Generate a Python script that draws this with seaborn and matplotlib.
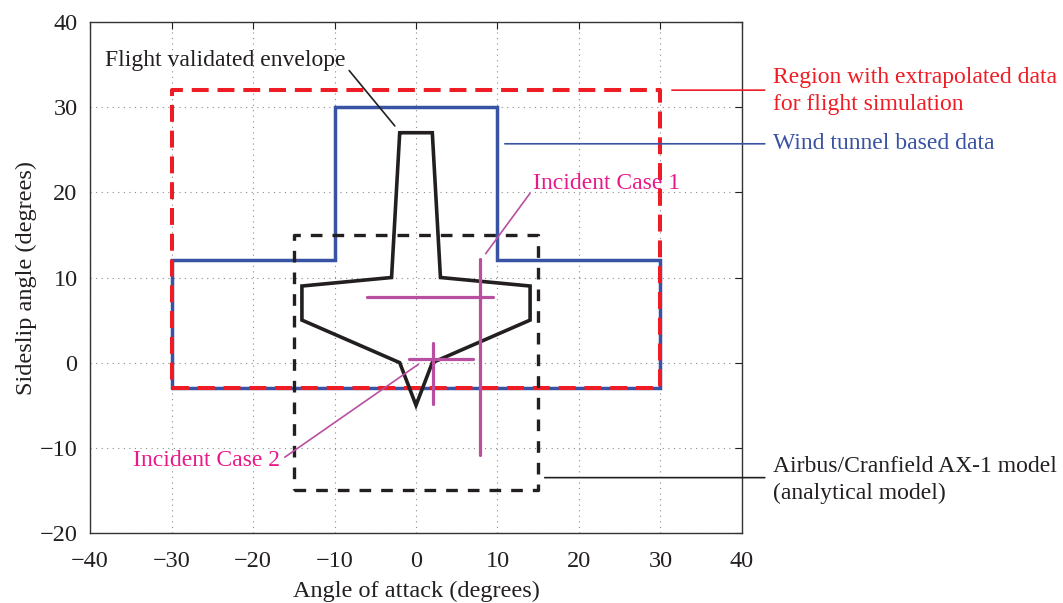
import matplotlib
matplotlib.use("Agg")
import matplotlib.pyplot as plt
import seaborn as sns
import pandas as pd

# Flight envelope regions (angle of attack, sideslip), in degrees
extrap_alpha = [-30, 30, 30, -30, -30]
extrap_beta = [-3, -3, 32, 32, -3]

tunnel_alpha = [-30, -30, -10, -10, 10, 10, 30, 30, -30]
tunnel_beta = [-3, 12, 12, 30, 30, 12, 12, -3, -3]

ax1_alpha = [-15, 15, 15, -15, -15]
ax1_beta = [-15, -15, 15, 15, -15]

flight_alpha = [-2, 2, 3, 14, 14, 2, 0, -2, -14, -14, -3, -2]
flight_beta = [27, 27, 10, 9, 5, 0, -5, 0, 5, 9, 10, 27]

# Incident cases: horizontal bar (alpha range at one beta), vertical bar (beta range at one alpha)
case1_alpha_range = [-6, 9.4]
case1_beta = 7.7
case1_alpha = 7.8
case1_beta_range = [-10.8, 12.2]

case2_alpha_range = [-0.9, 7.0]
case2_beta = 0.4
case2_alpha = 2.1
case2_beta_range = [-4.8, 2.3]

x_ticks = [-40, -30, -20, -10, 0, 10, 20, 30, 40]
y_ticks = [-20, -10, 0, 10, 20, 30, 40]

RED = "#ee1c25"
BLUE = "#3953a4"
BLACK = "#231f20"
MAGENTA = "#b94fa0"
PINK = "#e8198b"

sns.set_theme(style="white")
plt.rcParams["font.family"] = ["Liberation Serif", "DejaVu Serif"]

fig = plt.figure(figsize=(10.63, 6.03), dpi=100)
ax = fig.add_axes([0.0847, 0.1161, 0.6133, 0.8474])


def draw(xs, ys, **kw):
    df = pd.DataFrame({"x": xs, "y": ys})
    sns.lineplot(data=df, x="x", y="y", sort=False, estimator=None, ax=ax, **kw)


draw(tunnel_alpha, tunnel_beta, color=BLUE, lw=2.5, solid_joinstyle="miter")
draw(extrap_alpha, extrap_beta, color=RED, lw=2.9, dashes=(4.2, 2.2))
draw(ax1_alpha, ax1_beta, color=BLACK, lw=2.4, dashes=(3.5, 3))
draw(flight_alpha, flight_beta, color=BLACK, lw=2.6, solid_joinstyle="miter")

# Incident case crosses
draw(case1_alpha_range, [case1_beta, case1_beta], color=MAGENTA, lw=2.3)
draw([case1_alpha, case1_alpha], case1_beta_range, color=MAGENTA, lw=2.3)
draw(case2_alpha_range, [case2_beta, case2_beta], color=MAGENTA, lw=2.3)
draw([case2_alpha, case2_alpha], case2_beta_range, color=MAGENTA, lw=2.3)

ax.set_xlim(-40, 40)
ax.set_ylim(-20, 40)
ax.set_xticks(x_ticks)
ax.set_yticks(y_ticks)
ax.set_xticklabels([str(t).replace("-", "\u2212") for t in x_ticks])
ax.set_yticklabels([str(t).replace("-", "\u2212") for t in y_ticks])
ax.tick_params(direction="in", length=5, width=0.8, top=True, right=True,
               labelsize=17.5, colors=BLACK)
ax.tick_params(axis="x", pad=13)
ax.tick_params(axis="y", pad=9)
ax.grid(True, linestyle=(0, (1, 4)), color="#8a8a8a", lw=0.8)
for s in ax.spines.values():
    s.set_color("#333333")
    s.set_linewidth(1.0)

ax.set_xlabel("Angle of attack (degrees)", fontsize=17.5, labelpad=6, color=BLACK)
ax.set_ylabel("Sideslip angle (degrees)", fontsize=17.5, labelpad=2, color=BLACK)

fs = 17
lead = dict(arrowstyle="-", shrinkA=0, shrinkB=0, lw=1.2)


def leader(p0, p1, color):
    ax.annotate("", xy=p1, xytext=p0, arrowprops=dict(lead, color=color),
                annotation_clip=False)


leader((-8.2, 34.3), (-2.6, 27.8), BLACK)
ax.text(-38.2, 35.5, "Flight validated envelope", fontsize=fs, color=BLACK,
        ha="left", va="center")

leader((31.4, 32.0), (42.8, 32.0), RED)
ax.text(43.8, 31.9, "Region with extrapolated data\nfor flight simulation",
        fontsize=fs, color=RED, ha="left", va="center", linespacing=1.33,
        clip_on=False)

leader((10.9, 25.7), (42.8, 25.7), BLUE)
ax.text(43.8, 25.7, "Wind tunnel based data", fontsize=fs, color=BLUE,
        ha="left", va="center", clip_on=False)

leader((8.55, 12.8), (14.0, 19.9), MAGENTA)
ax.text(14.4, 21.0, "Incident Case 1", fontsize=fs, color=PINK,
        ha="left", va="center")

leader((-16.1, -11.1), (0.28, -0.2), MAGENTA)
ax.text(-16.7, -11.5, "Incident Case 2", fontsize=fs, color=PINK,
        ha="right", va="center")

leader((15.8, -13.5), (42.8, -13.5), BLACK)
ax.text(43.8, -13.75, "Airbus/Cranfield AX-1 model\n(analytical model)",
        fontsize=fs, color=BLACK, ha="left", va="center", linespacing=1.33,
        clip_on=False)

fig.savefig("out.png", dpi=100)
